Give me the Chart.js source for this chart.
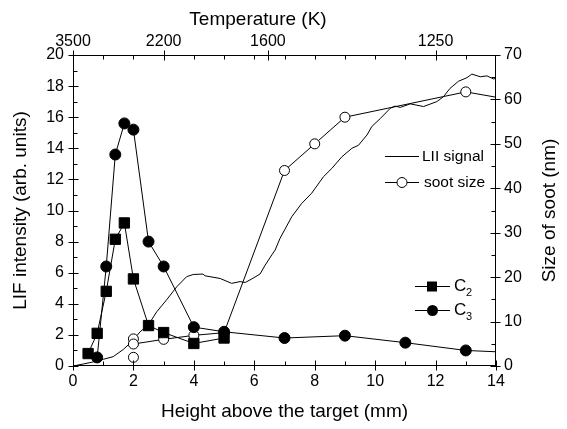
<!DOCTYPE html>
<html>
<head>
<meta charset="utf-8">
<script src="https://cdn.jsdelivr.net/npm/chart.js@4.4.0/dist/chart.umd.min.js"></script>
<style>
  html, body { margin: 0; padding: 0; background: #fff; }
</style>
</head>
<body>
<canvas id="myChart" width="567" height="429"></canvas>
<script>
// C2 and C3 LIF intensity (left axis)
const c2X = [0.5, 0.8, 1.1, 1.4, 1.7, 2.0, 2.5, 3.0, 4.0, 5.0];
const c2Y = [0.8, 2.1, 4.8, 8.15, 9.2, 5.6, 2.6, 2.15, 1.45, 1.8];
const c3X = [0.8, 1.1, 1.4, 1.7, 2.0, 2.5, 3.0, 4.0, 5.0, 7.0, 9.0, 11.0, 13.0, 15.0];
const c3Y = [0.55, 6.4, 13.6, 15.6, 15.2, 8.0, 6.4, 2.5, 2.2, 1.8, 1.95, 1.5, 1.0, 0.83];

// soot size in nm (right axis)
const sootX = [2.0, 3.0, 4.0, 5.0, 7.0, 8.0, 9.0, 13.0, 15.0];
const sootY = [4.95, 6.0, 6.9, 7.5, 44, 50, 56, 61.7, 59.3];
const sootExtraX = [2.0, 2.0];
const sootExtraY = [6.1, 1.95];

// LII signal, plotted on the right axis scale
const liiX = [0, 0.34, 0.73, 1.0, 1.33, 1.67, 2.0, 2.22, 2.49, 2.77, 3.1, 3.43, 3.76, 3.98,
  4.3, 4.37, 4.87, 5.25, 5.53, 5.7, 5.92, 6.19, 6.36, 6.58, 6.69, 6.85, 7.24, 7.57, 7.9,
  8.29, 8.57, 8.9, 9.23, 9.45, 9.73, 9.89, 10.17, 10.5, 10.66, 10.83, 11.16, 11.6, 12.04,
  12.26, 12.48, 12.76, 13.04, 13.2, 13.48, 13.7, 13.92, 14.0];
const liiY = [0, 0.45, 1.0, 1.5, 2.1, 3.75, 5.85, 7.7, 9.2, 12.2, 14.9, 17.8, 20.1, 20.6,
  20.7, 20.3, 19.7, 18.6, 19.0, 18.8, 19.6, 20.7, 22.7, 25.0, 26.1, 28.7, 33.6, 36.6, 38.9,
  42.6, 44.5, 47.1, 49.0, 49.7, 52.0, 53.9, 55.7, 58.0, 58.5, 58.2, 59.0, 58.4, 59.5,
  60.6, 62.5, 64.1, 64.9, 65.7, 65.1, 65.3, 64.6, 64.8];

// axis ticks
const leftTicks = [0, 2, 4, 6, 8, 10, 12, 14, 16, 18, 20];
const leftMinor = [1, 3, 5, 7, 9, 11, 13, 15, 17, 19];
const rightTicks = [0, 10, 20, 30, 40, 50, 60, 70];
const rightMinor = [5, 15, 25, 35, 45, 55, 65];
const bottomTicks = [0, 2, 4, 6, 8, 10, 12, 14];
const bottomMinor = [1, 3, 5, 7, 9, 11, 13];
const tempLabels = ['3500', '2200', '1600', '1250'];
const tempPos = [0, 3, 6.45, 12];
const topMinor = [1, 2, 3, 4, 5, 6, 7, 8, 9, 10, 11, 12, 13];

const FONT = "'Liberation Sans', Arial, sans-serif";

function pts(xs, ys) {
  return xs.map((x, i) => ({ x: x, y: ys[i] }));
}

// frame, tick marks, top/right titles and the two legend boxes
const decorations = {
  id: 'decorations',
  afterDraw(chart) {
    const ctx = chart.ctx;
    const a = chart.chartArea;
    const s = chart.scales;
    const L = Math.round(a.left) + 0.5, R = Math.round(a.right) - 0.5;
    const T = Math.round(a.top) + 0.5, B = Math.round(a.bottom) - 0.5;
    ctx.save();
    ctx.strokeStyle = '#000';
    ctx.lineWidth = 1;
    ctx.strokeRect(L, T, R - L, B - T);

    ctx.beginPath();
    // bottom
    for (let v of bottomTicks) { let p = Math.round(s.x.getPixelForValue(v)) + 0.5; ctx.moveTo(p, B + 5); ctx.lineTo(p, B - 5); }
    for (let v of bottomMinor) { let p = Math.round(s.x.getPixelForValue(v)) + 0.5; ctx.moveTo(p, B); ctx.lineTo(p, B - 4); }
    // top
    for (let v of tempPos) { let p = Math.round(s.x.getPixelForValue(v)) + 0.5; ctx.moveTo(p, T - 5); ctx.lineTo(p, T + 5); }
    for (let v of topMinor) { let p = Math.round(s.x.getPixelForValue(v)) + 0.5; ctx.moveTo(p, T); ctx.lineTo(p, T + 4); }
    // left
    for (let v of leftTicks) { let p = Math.round(s.y.getPixelForValue(v)) + 0.5; ctx.moveTo(L - 5, p); ctx.lineTo(L + 5, p); }
    for (let v of leftMinor) { let p = Math.round(s.y.getPixelForValue(v)) + 0.5; ctx.moveTo(L, p); ctx.lineTo(L + 4, p); }
    // right
    for (let v of rightTicks) { let p = Math.round(s.y2.getPixelForValue(v)) + 0.5; ctx.moveTo(R + 5, p); ctx.lineTo(R - 5, p); }
    for (let v of rightMinor) { let p = Math.round(s.y2.getPixelForValue(v)) + 0.5; ctx.moveTo(R, p); ctx.lineTo(R - 4, p); }
    ctx.stroke();

    ctx.fillStyle = '#000';
    ctx.font = '19px ' + FONT;
    ctx.textAlign = 'center';
    ctx.textBaseline = 'middle';
    // top axis title sits left of centre in the original
    ctx.fillText('Temperature (K)', 258, 20);
    // right axis title, reads bottom to top
    ctx.save();
    ctx.translate(550, (a.top + a.bottom) / 2);
    ctx.rotate(-Math.PI / 2);
    ctx.fillText('Size of soot (nm)', 0, 0);
    ctx.restore();

    // legend: LII signal / soot size
    ctx.font = '15.5px ' + FONT;
    ctx.textAlign = 'left';
    ctx.beginPath();
    ctx.moveTo(385, 156.5); ctx.lineTo(419, 156.5);
    ctx.moveTo(385, 182.5); ctx.lineTo(419, 182.5);
    ctx.stroke();
    ctx.beginPath();
    ctx.arc(402, 182.5, 5, 0, Math.PI * 2);
    ctx.fillStyle = '#fff'; ctx.fill(); ctx.stroke();
    ctx.fillStyle = '#000';
    ctx.fillText('LII signal', 422, 157);
    ctx.fillText('soot size', 424, 183);

    // legend: C2 / C3
    ctx.beginPath();
    ctx.moveTo(415, 286.5); ctx.lineTo(450, 286.5);
    ctx.moveTo(415, 310.5); ctx.lineTo(450, 310.5);
    ctx.stroke();
    ctx.fillRect(427, 281.5, 10, 10);
    ctx.beginPath();
    ctx.arc(432.5, 310.5, 5.5, 0, Math.PI * 2);
    ctx.fill();
    ctx.font = '17px ' + FONT;
    ctx.fillText('C', 454, 286);
    ctx.fillText('C', 454, 310);
    ctx.font = '11px ' + FONT;
    ctx.fillText('2', 466, 293);
    ctx.fillText('3', 466, 317);
    ctx.restore();
  }
};

const ctx = document.getElementById('myChart').getContext('2d');

// eslint-disable-next-line no-undef
const chart = new Chart(ctx, {
  type: 'scatter',
  data: {
    datasets: [
      {
        label: 'C2',
        data: pts(c2X, c2Y),
        yAxisID: 'y',
        showLine: true,
        borderColor: '#000',
        backgroundColor: '#000',
        borderWidth: 1,
        pointStyle: 'rect',
        pointRadius: 7.3,
        pointBorderWidth: 1
      },
      {
        label: 'C3',
        data: pts(c3X, c3Y),
        yAxisID: 'y',
        showLine: true,
        borderColor: '#000',
        backgroundColor: '#000',
        borderWidth: 1,
        pointRadius: 5.5,
        pointBorderWidth: 1
      },
      {
        label: 'soot size',
        data: pts(sootX, sootY),
        yAxisID: 'y2',
        showLine: true,
        borderColor: '#000',
        backgroundColor: '#fff',
        borderWidth: 1,
        pointRadius: 5,
        pointBorderWidth: 1
      },
      {
        label: 'soot size (repeat)',
        data: pts(sootExtraX, sootExtraY),
        yAxisID: 'y2',
        showLine: false,
        borderColor: '#000',
        backgroundColor: '#fff',
        pointRadius: 5,
        pointBorderWidth: 1
      },
      {
        label: 'LII signal',
        data: pts(liiX, liiY),
        yAxisID: 'y2',
        showLine: true,
        borderColor: '#000',
        borderWidth: 1,
        pointRadius: 0
      }
    ]
  },
  options: {
    responsive: false,
    devicePixelRatio: 1,
    animation: false,
    layout: { padding: 0 },
    plugins: { legend: { display: false }, tooltip: { enabled: false } },
    scales: {
      x: {
        type: 'linear',
        position: 'bottom',
        min: 0,
        max: 14,
        afterFit: (scale) => { scale.height = 63; },
        afterBuildTicks: (scale) => { scale.ticks = bottomTicks.map(v => ({ value: v })); },
        grid: { display: false, drawTicks: false },
        border: { display: false },
        ticks: { color: '#000', font: { family: FONT, size: 16 }, padding: 6, maxRotation: 0, autoSkip: false },
        title: { display: true, text: 'Height above the target (mm)', color: '#000', font: { family: FONT, size: 19 }, padding: { top: 0, bottom: 6 } }
      },
      x2: {
        type: 'linear',
        position: 'top',
        min: 0,
        max: 14,
        afterFit: (scale) => { scale.height = 55; },
        afterBuildTicks: (scale) => { scale.ticks = tempPos.map(v => ({ value: v })); },
        grid: { display: false, drawTicks: false },
        border: { display: false },
        ticks: {
          color: '#000', font: { family: FONT, size: 16 }, padding: 4, maxRotation: 0, autoSkip: false,
          callback: (value, index) => tempLabels[index]
        }
      },
      y: {
        type: 'linear',
        position: 'left',
        min: 0,
        max: 20,
        afterFit: (scale) => { scale.width = 73; },
        afterBuildTicks: (scale) => { scale.ticks = leftTicks.map(v => ({ value: v })); },
        grid: { display: false, drawTicks: false },
        border: { display: false },
        ticks: { color: '#000', font: { family: FONT, size: 16 }, padding: 9 },
        title: { display: true, text: 'LIF intensity (arb. units)', color: '#000', font: { family: FONT, size: 19 }, padding: { top: 9, bottom: 0 } }
      },
      y2: {
        type: 'linear',
        position: 'right',
        min: 0,
        max: 70,
        afterFit: (scale) => { scale.width = 71; },
        afterBuildTicks: (scale) => { scale.ticks = rightTicks.map(v => ({ value: v })); },
        grid: { display: false, drawTicks: false },
        border: { display: false },
        ticks: { color: '#000', font: { family: FONT, size: 16 }, padding: 8 }
      }
    }
  },
  plugins: [decorations]
});
</script>
</body>
</html>
